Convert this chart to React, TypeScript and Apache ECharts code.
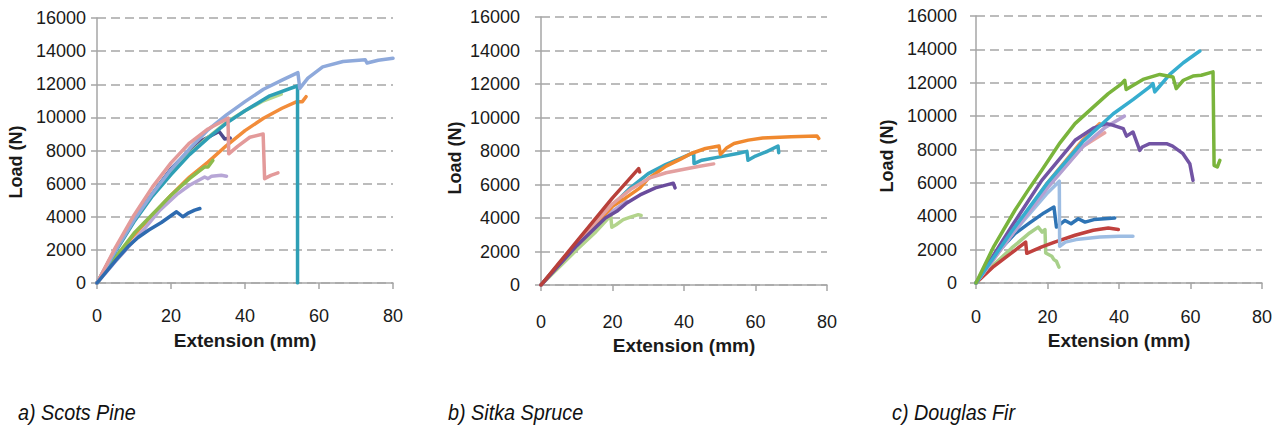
import React, { useEffect, useRef } from "react";
import * as echarts from "echarts";

type P = [number, number][];

// ---------- tick values ----------
const xTicks = { min: 0, max: 80, interval: 20 };
const yTicks = { min: 0, max: 16000, interval: 2000 };

// ---------- titles ----------
const yTitle = "Load (N)";
const xTitle = "Extension (mm)";
const captions = ["a) Scots Pine", "b) Sitka Spruce", "c) Douglas Fir"];

// ---------- a) Scots Pine ----------
const pineLightBlue: P = [[0,0],[5,1950],[10,3800],[15,5400],[20,6850],[25,8100],[30,9250],[35,10150],[40,10950],[45,11700],[50,12250],[54.3,12700],[54.8,11750],[57,12370],[61,13050],[66.5,13370],[72.5,13480],[73,13280],[76,13450],[80,13570]];
const pinePink: P = [[0,0],[5,2150],[10,4100],[15,5800],[20,7250],[25,8450],[30,9300],[35.4,9950],[35.6,7800],[38,8250],[41.3,8800],[44.9,9000],[45.3,6300],[47,6500],[48.9,6650]];
const pineLightGreen: P = [[0,0],[5,1950],[10,3800],[15,5350],[20,6650],[25,7800],[30,8800],[35,9700],[40,10400],[45,11000],[49.8,11400]];
const pineTeal: P = [[0,0],[5,1900],[10,3700],[15,5250],[20,6550],[25,7750],[30,8750],[35,9650],[40,10400],[46.7,11300],[53.5,11850],[54.2,11900],[54.2,0]];
const pineOrange: P = [[0,0],[5,1500],[10,2900],[15,4100],[20,5300],[25,6400],[30,7300],[35,8300],[40,9200],[45,9950],[50,10550],[54,10950],[55.5,10950],[56.5,11250]];
const pineDarkBlue: P = [[0,0],[5,1350],[8.4,2200],[11.1,2750],[14,3200],[17.4,3650],[21.5,4300],[23.2,4000],[24.5,4200],[26.4,4400],[27.8,4500]];
const pineLavender: P = [[0,0],[5,1300],[12.9,3290],[17,4400],[21.9,5400],[25,5900],[29.1,6400],[30,6300],[31,6450],[33.6,6500],[35,6450]];
const pinePurple: P = [[0,0],[5,2050],[10,3900],[20,6900],[27,8450],[33,9150],[34.5,8700],[36,8750]];
const pineGreen: P = [[0,0],[5,1550],[10,3000],[20,5300],[25,6300],[29,7000],[30,7000],[31.3,7400]];

// ---------- b) Sitka Spruce ----------
const spruceRed: P = [[0,0],[5,1300],[10,2600],[15,3900],[20,5200],[25,6400],[27.3,6950],[27.6,6750]];
const spruceTeal: P = [[0,0],[5,1250],[10,2500],[15,3650],[20,4750],[25,5800],[30,6650],[35,7200],[40,7650],[42.7,7900],[42.8,7250],[45,7450],[50,7650],[55,7850],[57.6,7980],[57.9,7450],[60,7700],[63,7950],[66.3,8300],[66.5,7900]];
const spruceOrange: P = [[0,0],[10,2400],[20,4700],[23,5100],[27.7,5800],[30,6350],[35,7100],[38.9,7500],[42,7850],[46,8150],[49.8,8300],[50.2,7800],[52,8200],[54,8450],[58,8650],[62,8770],[70,8850],[77.2,8900],[77.7,8750]];
const sprucePink: P = [[0,0],[10,2500],[20,4850],[25,5700],[30.5,6400],[35,6700],[38.9,6870],[44,7070],[48.3,7230]];
const sprucePurple: P = [[0,0],[10,2350],[18,4000],[21.2,4400],[24,4900],[27.7,5380],[32,5800],[37,6080],[37.5,5800]];
const spruceLightGreen: P = [[0,0],[10,2100],[15,3100],[19.5,4150],[19.8,3450],[21,3600],[23,3900],[25,4050],[27.2,4200],[28,4150]];
const spruceLavender: P = [[0,0],[10,2250],[20,4400],[24,5000]];

// ---------- c) Douglas Fir ----------
const firGreen: P = [[0,0],[5,2200],[10.9,4360],[15,5700],[18.4,6750],[23.5,8400],[27.7,9550],[32.8,10540],[37,11350],[40.5,11900],[41.6,12150],[42,11600],[46.7,12200],[51.4,12500],[55.1,12350],[56,11650],[58,12150],[60.7,12400],[63,12450],[66.3,12650],[66.6,7050],[67.5,6950],[68.2,7350]];
const firTeal: P = [[0,0],[10,3100],[20,6000],[30,8500],[38.4,10140],[44,11000],[48.6,11750],[49.5,11950],[50,11450],[51,11700],[54.2,12500],[58,13200],[62.6,13900]];
const firPurple: P = [[0,0],[10,3400],[18.4,6150],[27.7,8550],[33,9300],[36.5,9550],[38.4,9450],[41.2,9250],[42.1,8800],[43.9,9050],[45.8,7950],[46.5,8150],[48.6,8350],[53.3,8350],[55,8200],[57.9,7750],[59.8,7150],[60.7,6150]];
const firLavender: P = [[0,0],[10,2900],[20,5700],[30,8200],[36,9300],[41.5,10000]];
const firOrange: P = [[0,0],[10,3000],[20,6000],[30,8600],[34.6,9550]];
const firPink: P = [[0,0],[10,2900],[20,5800],[30,8200],[36,9000]];
const firLightBlue: P = [[0,0],[10,2900],[20,5400],[23.3,6100],[23.4,2200],[25,2450],[28,2600],[34.6,2750],[40,2800],[43.9,2800]];
const firBlue: P = [[0,0],[5,1600],[10.9,2960],[15,3600],[19,4200],[21.8,4550],[22.5,3350],[24.9,3750],[26.6,3550],[28.6,3850],[30.5,3650],[33,3800],[36,3850],[38.8,3900]];
const firRed: P = [[0,0],[5,1000],[10.9,1960],[13.9,2450],[14.2,1780],[18.4,2160],[22,2450],[27.7,2860],[32.8,3160],[37,3300],[39.8,3200]];
const firLightGreen: P = [[0,0],[5,1100],[10,2100],[15,3000],[17.4,3350],[18.5,3050],[19.3,3200],[19.5,1800],[21.2,1600],[21.8,1400],[22.5,1300],[23.2,950]];

const panels: { lines: [P, string][] }[] = [
  {
    lines: [
      [pineOrange, "#F28C3A"],
      [pineLavender, "#B7A6D6"],
      [pineGreen, "#8DBB4C"],
      [pinePurple, "#4E4A8E"],
      [pineLightGreen, "#B5D88F"],
      [pineTeal, "#2E9FB5"],
      [pineLightBlue, "#8EA9DB"],
      [pinePink, "#E39A9A"],
      [pineDarkBlue, "#2E6BB0"],
    ],
  },
  {
    lines: [
      [spruceLavender, "#B7A4D5"],
      [spruceLightGreen, "#B3D48C"],
      [spruceTeal, "#36A5C0"],
      [spruceOrange, "#F0892F"],
      [sprucePink, "#E3A0A0"],
      [sprucePurple, "#6A4C9C"],
      [spruceRed, "#B8403A"],
    ],
  },
  {
    lines: [
      [firLightGreen, "#A8D08A"],
      [firRed, "#C0413E"],
      [firBlue, "#2E74B5"],
      [firLightBlue, "#9DBDE3"],
      [firPink, "#E6A3A3"],
      [firOrange, "#F29A4F"],
      [firLavender, "#B4A0D2"],
      [firPurple, "#7254A4"],
      [firTeal, "#36ADCF"],
      [firGreen, "#7AB43C"],
    ],
  },
];

const grids = [
  { left: 97, top: 18, width: 296, height: 265, yMargin: 11, xMargin: 24 },
  { left: 541, top: 17, width: 286, height: 268, yMargin: 21, xMargin: 28 },
  { left: 976, top: 16, width: 286, height: 267, yMargin: 19, xMargin: 25 },
];
const xTitlePos = [[245, 340], [684, 345], [1119, 340]];
const yTitlePos = [[16, 162], [455, 158], [887, 156]];
const captionPos = [[18, 412], [448, 412], [892, 412]];

const FONT = "'Liberation Sans', Arial, sans-serif";
const AXIS = "#A6A6A6";

export default function App() {
  const ref = useRef<HTMLDivElement>(null);
  useEffect(() => {
    if (!ref.current) return;
    const chart = echarts.init(ref.current, undefined, { renderer: "svg" });
    const series: any[] = [];
    panels.forEach((p, i) => {
      p.lines.forEach(([data, color]) => {
        series.push({
          type: "line",
          xAxisIndex: i,
          yAxisIndex: i,
          data,
          showSymbol: false,
          symbol: "none",
          silent: true,
          lineStyle: { color, width: 3.5, cap: "round", join: "round" },
          itemStyle: { color },
        });
      });
    });
    const graphics: any[] = [];
    xTitlePos.forEach(([x, y]) =>
      graphics.push({
        type: "text", x, y, silent: true,
        style: { text: xTitle, align: "center", verticalAlign: "middle", fontFamily: FONT, fontWeight: "bold", fontSize: 19, fill: "#1a1a1a" },
      })
    );
    yTitlePos.forEach(([x, y]) =>
      graphics.push({
        type: "text", x, y, rotation: Math.PI / 2, silent: true,
        style: { text: yTitle, align: "center", verticalAlign: "middle", fontFamily: FONT, fontWeight: "bold", fontSize: 18, fill: "#1a1a1a" },
      })
    );
    captions.forEach((t, i) =>
      graphics.push({
        type: "text", x: captionPos[i][0], y: captionPos[i][1], scaleX: 0.9, silent: true,
        style: { text: t, align: "left", verticalAlign: "middle", fontFamily: FONT, fontStyle: "italic", fontSize: 22, fill: "#111" },
      })
    );
    const plain = (v: number) => String(v);
    chart.setOption({
      animation: false,
      backgroundColor: "#ffffff",
      grid: grids.map((g) => ({ left: g.left, top: g.top, width: g.width, height: g.height })),
      xAxis: grids.map((g, i) => ({
        type: "value",
        gridIndex: i,
        min: xTicks.min,
        max: xTicks.max,
        interval: xTicks.interval,
        axisLine: { show: true, lineStyle: { color: AXIS, width: 1.5 } },
        axisTick: { show: true, inside: false, length: 6, lineStyle: { color: AXIS, width: 1.5 } },
        axisLabel: { margin: g.xMargin, fontSize: 18, fontFamily: FONT, color: "#1a1a1a", formatter: plain },
        splitLine: { show: false },
      })),
      yAxis: grids.map((g, i) => ({
        type: "value",
        gridIndex: i,
        min: yTicks.min,
        max: yTicks.max,
        interval: yTicks.interval,
        axisLine: { show: true, lineStyle: { color: AXIS, width: 1.5 } },
        axisTick: { show: true, inside: false, length: 6, lineStyle: { color: AXIS, width: 1.5 } },
        axisLabel: { margin: g.yMargin, fontSize: 18, fontFamily: FONT, color: "#1a1a1a", formatter: plain },
        splitLine: { show: true, lineStyle: { color: AXIS, width: 1.5, type: [9, 5] } },
      })),
      series,
      graphic: graphics,
    });
    return () => chart.dispose();
  }, []);
  return (
    <div
      ref={ref}
      style={{ position: "absolute", left: 0, top: 0, width: 1281, height: 427, background: "#fff" }}
    />
  );
}
